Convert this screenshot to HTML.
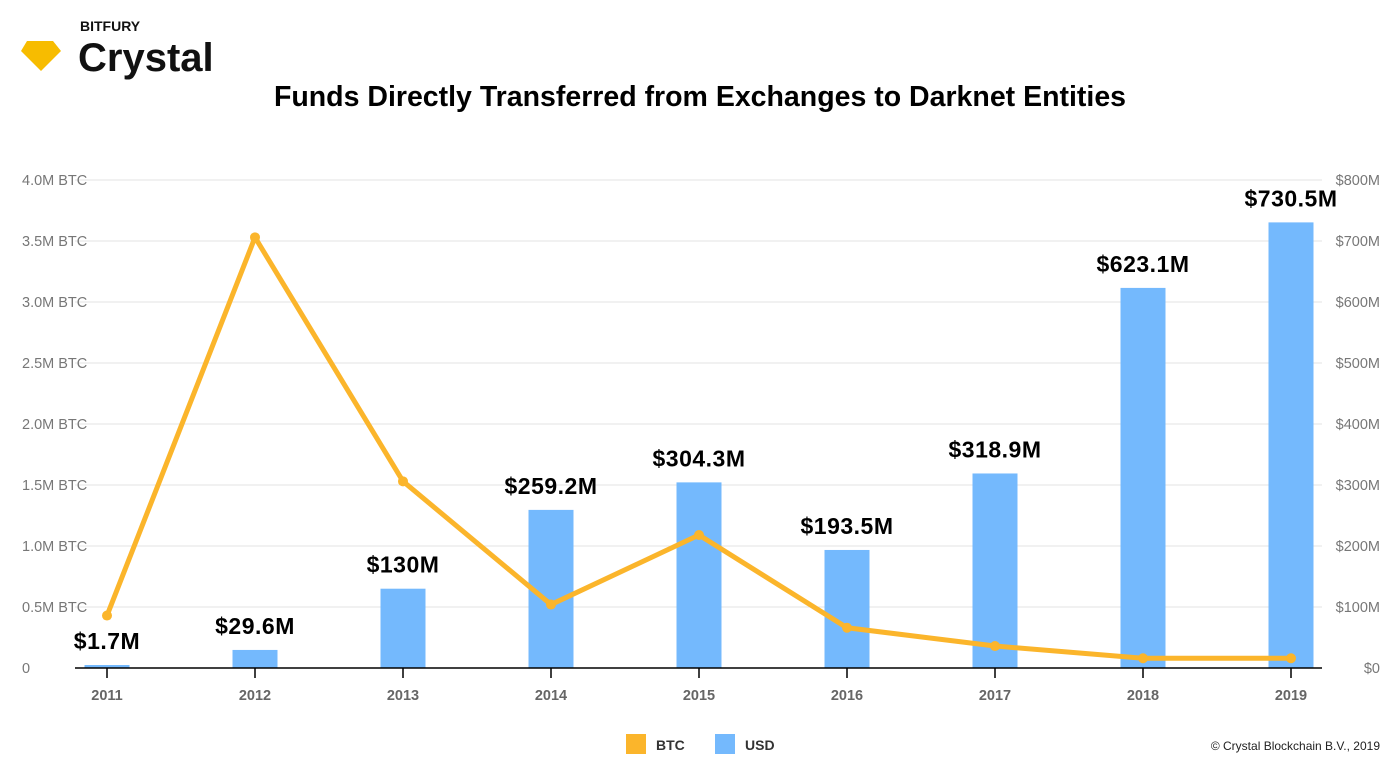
<!DOCTYPE html>
<html><head><meta charset="utf-8"><style>
body{margin:0;background:#fff;width:1400px;height:774px;overflow:hidden;font-family:"Liberation Sans",sans-serif}
</style></head><body>
<svg width="1400" height="774" font-family="Liberation Sans, sans-serif">
<g>
<polygon points="27,41 53,41 61,51 41,71 21,51" fill="#f7bc00"/>
<text x="80" y="31" font-size="14" font-weight="bold" fill="#111">BITFURY</text>
<text x="78" y="71" font-size="40" font-weight="bold" fill="#111">Crystal</text>
</g>
<text x="700" y="106" text-anchor="middle" font-size="28.5" font-weight="bold" fill="#000">Funds Directly Transferred from Exchanges to Darknet Entities</text>
<g id="grid"></g><g id="bars"></g><g id="line"></g><g id="axes"></g>
<g>
<rect x="626" y="734" width="20" height="20" fill="#fbb52b"/>
<text x="656" y="750" font-size="14" font-weight="bold" fill="#333">BTC</text>
<rect x="715" y="734" width="20" height="20" fill="#74b9fd"/>
<text x="745" y="750" font-size="14" font-weight="bold" fill="#333">USD</text>
</g>
<text x="1380" y="750" text-anchor="end" font-size="12" fill="#222">© Crystal Blockchain B.V., 2019</text>
</svg>
<script>
const categories=["2011","2012","2013","2014","2015","2016","2017","2018","2019"];
const usdValues=[1.7,29.6,130,259.2,304.3,193.5,318.9,623.1,730.5];
const usdLabels=["$1.7M","$29.6M","$130M","$259.2M","$304.3M","$193.5M","$318.9M","$623.1M","$730.5M"];
const btcValues=[0.43,3.53,1.53,0.52,1.09,0.33,0.18,0.08,0.08];
const leftTicks=[0,0.5,1,1.5,2,2.5,3,3.5,4];
const leftTickLabels=["0","0.5M BTC","1.0M BTC","1.5M BTC","2.0M BTC","2.5M BTC","3.0M BTC","3.5M BTC","4.0M BTC"];
const rightTicks=[0,100,200,300,400,500,600,700,800];
const rightTickLabels=["$0","$100M","$200M","$300M","$400M","$500M","$600M","$700M","$800M"];
const NS="http://www.w3.org/2000/svg";
const x0=75,x1=1322,yTop=180,yBot=668;
const xs=i=>107+i*148;
const yL=v=>yBot-(v/4)*(yBot-yTop);
const yR=v=>yBot-(v/800)*(yBot-yTop);
function mk(p,t,a){const e=document.createElementNS(NS,t);for(const k in a)e.setAttribute(k,a[k]);p.appendChild(e);return e;}
const grid=document.getElementById('grid'),bars=document.getElementById('bars'),line=document.getElementById('line'),axes=document.getElementById('axes');
leftTicks.forEach((v,i)=>{
 if(i>0){const g=mk(grid,'line',{x1:x0,x2:x1,y1:yL(v),y2:yL(v),stroke:'#e3e3e3','stroke-width':1});
 
 }
 const t=mk(axes,'text',{x:22,y:yL(v)+5,'font-size':14.5,fill:'#777'});t.textContent=leftTickLabels[i];
 
 
});
rightTicks.forEach((v,i)=>{
 const t=mk(axes,'text',{x:1380,y:yR(v)+5,'font-size':14.5,fill:'#777','text-anchor':'end'});t.textContent=rightTickLabels[i];
 
 
});
categories.forEach((c,i)=>{
 const top=Math.min(yR(usdValues[i]),yBot-3);
 const b=mk(bars,'rect',{x:xs(i)-22.5,y:top,width:45,height:yBot-top,fill:'#74b9fd'});
 
 
 const l=mk(bars,'text',{x:xs(i),y:top-16,'font-size':23,'font-weight':'bold',fill:'#000','text-anchor':'middle','letter-spacing':'0.5'});l.textContent=usdLabels[i];
 
 
});
const ax=mk(axes,'line',{x1:x0,x2:x1,y1:yBot,y2:yBot,stroke:'#000','stroke-width':1.5});


categories.forEach((c,i)=>{
 const tk=mk(axes,'line',{x1:xs(i),x2:xs(i),y1:yBot,y2:yBot+10,stroke:'#000','stroke-width':1.5});
 
 
 const t=mk(axes,'text',{x:xs(i),y:700,'font-size':14.5,'font-weight':'bold',fill:'#666','text-anchor':'middle'});t.textContent=c;
 
 
});
const pl=mk(line,'polyline',{points:btcValues.map((v,i)=>xs(i)+','+yL(v)).join(' '),fill:'none',stroke:'#fbb52b','stroke-width':5,'stroke-linejoin':'round'});


btcValues.forEach((v,i)=>{
 const c=mk(line,'circle',{cx:xs(i),cy:yL(v),r:5,fill:'#fbb52b'});
 
 
});
</script>
</body></html>
